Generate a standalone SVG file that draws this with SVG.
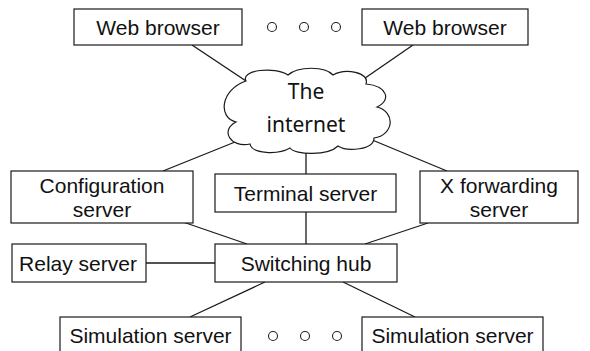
<svg xmlns="http://www.w3.org/2000/svg" width="590" height="351" viewBox="0 0 590 351">
<style>
.box{fill:#fff;stroke:#1a1a1a;stroke-width:1.2}
.ln{stroke:#1a1a1a;stroke-width:1.3;fill:none}
.t{font-family:"Liberation Sans",Arial,sans-serif;font-size:21px;fill:#111;text-anchor:middle}
.c{font-family:"Noto Sans","Liberation Sans",sans-serif;font-size:21px;fill:#111;text-anchor:middle}
.dot{fill:#fff;stroke:#222;stroke-width:1.1}
</style>
<rect width="590" height="351" fill="#fff"/>
<g id="connectors">
<line class="ln" x1="192" y1="45" x2="252" y2="85"/>
<line class="ln" x1="413" y1="45" x2="355" y2="85"/>
<line class="ln" x1="163" y1="171" x2="245" y2="138"/>
<line class="ln" x1="447" y1="171" x2="365" y2="137"/>
<line class="ln" x1="306" y1="145" x2="306" y2="174"/>
<line class="ln" x1="306" y1="212" x2="306" y2="244"/>
<line class="ln" x1="183" y1="222" x2="247" y2="244"/>
<line class="ln" x1="428" y1="223" x2="365" y2="244"/>
<line class="ln" x1="146" y1="263" x2="215" y2="263"/>
<line class="ln" x1="265" y1="282" x2="190" y2="317"/>
<line class="ln" x1="343" y1="282" x2="415" y2="317"/>
</g>
<g id="web-browser-1">
<rect class="box" x="74" y="9" width="168" height="36"/>
<text class="t" x="158" y="35">Web browser</text>
</g>
<g id="dots-top">
<circle class="dot" cx="272" cy="27" r="4.5"/>
<circle class="dot" cx="304" cy="27" r="4.5"/>
<circle class="dot" cx="336" cy="27" r="4.5"/>
</g>
<g id="web-browser-2">
<rect class="box" x="362" y="9" width="166" height="36"/>
<text class="t" x="445" y="35">Web browser</text>
</g>
<g id="internet">
<path class="box" d="M246,81 C240,70 275,66 288,75 C298,66 325,66 333,75 C345,68 370,72 366,84 C387,86 392,100 377,107 C396,112 394,135 374,138 C374,150 347,152 338,146 C328,156 295,155 290,148 C278,155 252,154 250,144 C230,148 220,130 236,122 C218,118 220,90 246,81 Z"/>
<text class="c" x="306" y="99">The</text>
<text class="c" x="306" y="132">internet</text>
</g>
<g id="configuration-server">
<rect class="box" x="11" y="171" width="182" height="52"/>
<text class="t" x="102" y="193">Configuration</text>
<text class="t" x="102" y="217">server</text>
</g>
<g id="terminal-server">
<rect class="box" x="215" y="174" width="181" height="38"/>
<text class="t" x="305.5" y="200.5">Terminal server</text>
</g>
<g id="x-forwarding-server">
<rect class="box" x="420" y="171" width="158" height="52"/>
<text class="t" x="499" y="193">X forwarding</text>
<text class="t" x="499" y="217">server</text>
</g>
<g id="relay-server">
<rect class="box" x="12" y="244" width="134" height="38"/>
<text class="t" x="78" y="271">Relay server</text>
</g>
<g id="switching-hub">
<rect class="box" x="215" y="244" width="182" height="38"/>
<text class="t" x="306" y="271">Switching hub</text>
</g>
<g id="simulation-server-1">
<rect class="box" x="60" y="317" width="181" height="40"/>
<text class="t" x="150.5" y="343">Simulation server</text>
</g>
<g id="dots-bottom">
<circle class="dot" cx="273" cy="336" r="4.5"/>
<circle class="dot" cx="305" cy="336" r="4.5"/>
<circle class="dot" cx="337" cy="336" r="4.5"/>
</g>
<g id="simulation-server-2">
<rect class="box" x="362" y="317" width="181" height="40"/>
<text class="t" x="452.5" y="343">Simulation server</text>
</g>
</svg>
